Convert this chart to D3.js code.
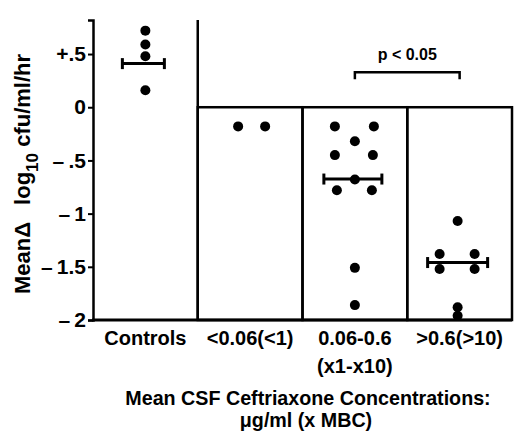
<!DOCTYPE html>
<html>
<head>
<meta charset="utf-8">
<script src="https://cdn.jsdelivr.net/npm/d3@7"></script>
<style>
  body { margin: 0; background: #fff; }
  text { font-family: "Liberation Sans", Arial, Helvetica, sans-serif; font-weight: bold; fill: #000; }
</style>
</head>
<body>
<svg id="chart" width="517" height="432"></svg>
<script>
// groups along the x axis
var categories = ["Controls", "<0.06(<1)", "0.06-0.6", ">0.6(>10)"];
var subLabels = ["", "", "(x1-x10)", ""];
var boxed = [false, true, true, true];

// individual animals: change in log10 cfu/ml/hr
var controlVals = [0.72, 0.59, 0.48, 0.16];
var lowVals = [-0.18, -0.18];
var midVals = [-0.18, -0.18, -0.32, -0.45, -0.45, -0.68, -0.78, -0.78, -1.51, -1.86];
var highVals = [-1.07, -1.38, -1.38, -1.52, -1.52, -1.88, -1.96];

// side-by-side slot of each dot (dots with equal values sit next to each other)
var controlSlots = [0, 0, 0, 0];
var lowSlots = [-0.6, 0.75];
var midSlots = [-1, 0.95, 0, -1, 0.9, 0, -0.9, 0.85, 0, 0];
var highSlots = [-0.1, -1, 0.75, -1, 0.75, -0.1, -0.1];

// group means (null = not shown)
var means = [0.41, null, -0.675, -1.46];

var tickValues = [0.5, 0, -0.5, -1, -1.5, -2];
var tickLabels = ["+.5", "0", "\u2013\u2009.5", "\u2013\u20091", "\u2013\u20091.5", "\u2013\u20092"];

var svg = d3.select("#chart");

var x = d3.scaleBand().domain(categories).range([93, 512]).padding(0);
var y = d3.scaleLinear().domain([-2, 0.82]).range([320, 20]);

var groups = [
  { vals: controlVals, slots: controlSlots },
  { vals: lowVals, slots: lowSlots },
  { vals: midVals, slots: midSlots },
  { vals: highVals, slots: highSlots }
];
var slotW = 20;
var meanHalf = [21, 0, 29, 30];

function cx(i) { return x(categories[i]) + x.bandwidth() / 2; }

// boxes for the treated groups (0 down to -2)
svg.selectAll("rect.box").data(categories.filter(function(c, i) { return boxed[i]; }))
  .enter().append("rect")
  .attr("class", "box")
  .attr("x", function(d) { return x(d); })
  .attr("y", y(0))
  .attr("width", x.bandwidth())
  .attr("height", y(-2) - y(0))
  .attr("fill", "none")
  .attr("stroke", "#000")
  .attr("stroke-width", 2.5);

// divider between controls and treated groups
svg.append("line")
  .attr("x1", x(categories[1])).attr("x2", x(categories[1]))
  .attr("y1", y(0.82)).attr("y2", y(-2))
  .attr("stroke", "#000").attr("stroke-width", 2.5);

// y axis
var yaxis = d3.axisLeft(y).tickValues(tickValues).tickSize(5).tickPadding(2)
  .tickFormat(function(d, i) { return tickLabels[i]; });
var ga = svg.append("g").attr("transform", "translate(93,0)").call(yaxis);
ga.select(".domain").attr("stroke-width", 2.5);
ga.selectAll(".tick line").attr("stroke-width", 2);
ga.selectAll(".tick text").style("font-size", "21px")
  .style("font-family", "Liberation Sans, Arial, sans-serif").style("font-weight", "bold");

// x axis (plain line + labels)
svg.append("line")
  .attr("x1", 92).attr("x2", 512)
  .attr("y1", y(-2)).attr("y2", y(-2))
  .attr("stroke", "#000").attr("stroke-width", 3);

svg.selectAll("text.cat").data(categories).enter()
  .append("text")
  .attr("class", "cat")
  .attr("x", function(d) { return x(d) + x.bandwidth() / 2; })
  .attr("y", 345)
  .attr("text-anchor", "middle")
  .style("font-size", "20px")
  .text(function(d) { return d; });

svg.selectAll("text.sub").data(subLabels).enter()
  .append("text")
  .attr("class", "sub")
  .attr("x", function(d, i) { return cx(i); })
  .attr("y", 373)
  .attr("text-anchor", "middle")
  .style("font-size", "20px")
  .text(function(d) { return d; });

// dots
groups.forEach(function(g, i) {
  svg.selectAll("circle.g" + i).data(g.vals).enter()
    .append("circle")
    .attr("class", "g" + i)
    .attr("cx", function(d, j) { return cx(i) + g.slots[j] * slotW; })
    .attr("cy", function(d) { return y(d); })
    .attr("r", 5)
    .attr("fill", "#000");
});

// mean bars with end caps
means.forEach(function(m, i) {
  if (m === null) return;
  var c = cx(i) - 2, h = meanHalf[i], yy = y(m);
  svg.append("line").attr("x1", c - h).attr("x2", c + h).attr("y1", yy).attr("y2", yy)
    .attr("stroke", "#000").attr("stroke-width", 3);
  [c - h, c + h].forEach(function(xx) {
    svg.append("line").attr("x1", xx).attr("x2", xx).attr("y1", yy - 5.5).attr("y2", yy + 5.5)
      .attr("stroke", "#000").attr("stroke-width", 3);
  });
});

// significance bracket
var bx1 = cx(2), bx2 = cx(3), by = y(0.33);
svg.append("path")
  .attr("d", "M" + bx1 + "," + (by + 7) + "V" + by + "H" + bx2 + "V" + (by + 7))
  .attr("fill", "none").attr("stroke", "#000").attr("stroke-width", 2.5);
svg.append("text")
  .attr("x", (bx1 + bx2) / 2).attr("y", by - 12)
  .attr("text-anchor", "middle")
  .style("font-size", "16px")
  .text("p < 0.05");

// y axis title
var yt = svg.append("text")
  .attr("transform", "translate(30,174) rotate(-90)")
  .attr("text-anchor", "middle")
  .style("font-size", "22px");
yt.append("tspan").text("Mean\u0394\u2002 log");
yt.append("tspan").attr("dy", 8).style("font-size", "17px").text("10");
yt.append("tspan").attr("dy", -8).text(" cfu/ml/hr");

// x axis title
svg.append("text").attr("x", 308).attr("y", 405).attr("text-anchor", "middle")
  .style("font-size", "19.7px").text("Mean CSF Ceftriaxone Concentrations:");
svg.append("text").attr("x", 306).attr("y", 427).attr("text-anchor", "middle")
  .style("font-size", "19.7px").text("\u03bcg/ml (x MBC)");
</script>
</body>
</html>
